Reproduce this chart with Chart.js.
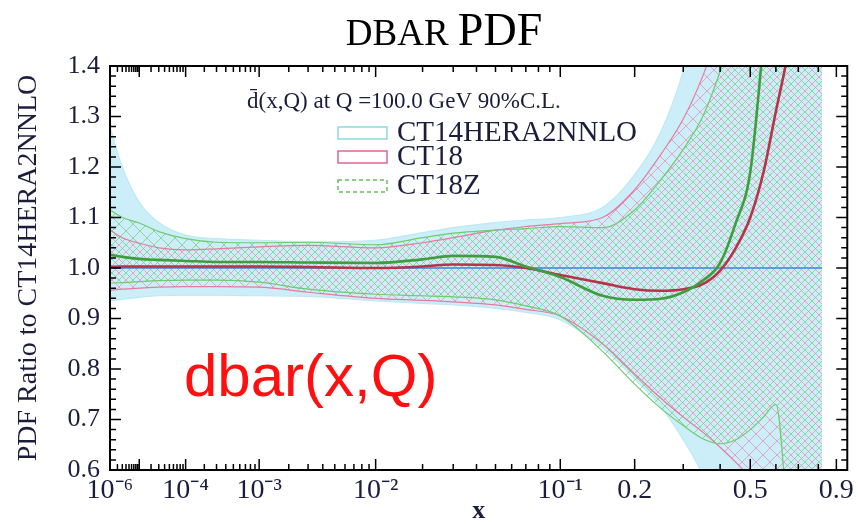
<!DOCTYPE html>
<html>
<head>
<meta charset="utf-8">
<script src="https://cdn.jsdelivr.net/npm/chart.js@4"></script>
<style>
  html, body { margin: 0; padding: 0; background: #fff; }
</style>
</head>
<body>
<canvas id="dbarChart" width="858" height="524"></canvas>
<script>
// sample points in x (momentum fraction)
const xs = [1e-6, 3e-6, 1e-5, 3e-5, 1e-4, 3e-4, 1e-3, 3e-3, 0.01, 0.02, 0.03, 0.05, 0.07, 0.1,
            0.15, 0.2, 0.25, 0.3, 0.35, 0.4, 0.45, 0.5, 0.55, 0.6, 0.65, 0.7, 0.75, 0.82];

// CT14HERA2NNLO error band (ratio to itself) and central
const ct14Upper = [1.28, 1.20, 1.13, 1.09, 1.065, 1.058, 1.055, 1.052, 1.055, 1.07, 1.08, 1.09, 1.095, 1.10,
                   1.12, 1.185, 1.27, 1.39, 1.55, 1.75, 1.95, 2.1, 2.2, 2.3, 2.4, 2.5, 2.6, 2.7];
const ct14Lower = [0.935, 0.938, 0.942, 0.945, 0.946, 0.946, 0.945, 0.944, 0.935, 0.93, 0.927, 0.92, 0.912, 0.897,
                   0.842, 0.78, 0.725, 0.66, 0.59, 0.5, 0.42, 0.36, 0.3, 0.25, 0.2, 0.15, 0.1, 0.05];
const ct14Central = [1, 1, 1, 1, 1, 1, 1, 1, 1, 1, 1, 1, 1, 1, 1, 1, 1, 1, 1, 1, 1, 1, 1, 1, 1, 1, 1, 1];

// CT18
const ct18Upper = [1.075, 1.06, 1.049, 1.04, 1.036, 1.038, 1.042, 1.045, 1.04, 1.05, 1.06, 1.075, 1.082, 1.088,
                   1.10, 1.155, 1.225, 1.295, 1.38, 1.48, 1.6, 1.75, 1.9, 2.0, 2.1, 2.2, 2.3, 2.4];
const ct18Lower = [0.956, 0.958, 0.96, 0.962, 0.963, 0.963, 0.962, 0.952, 0.94, 0.936, 0.933, 0.927, 0.918, 0.905,
                   0.85, 0.79, 0.742, 0.705, 0.675, 0.645, 0.615, 0.585, 0.55, 0.5, 0.45, 0.4, 0.35, 0.3];
const ct18Central = [1.002, 1.003, 1.003, 1.003, 1.003, 1.003, 1.003, 1.002, 1.0, 1.003, 1.007, 1.006, 1.0, 0.986,
                     0.97, 0.958, 0.955, 0.958, 0.968, 0.995, 1.04, 1.10, 1.19, 1.31, 1.42, 1.55, 1.7, 1.9];

// CT18Z
const ct18zUpper = [1.115, 1.10, 1.089, 1.072, 1.058, 1.051, 1.05, 1.051, 1.046, 1.06, 1.069, 1.075, 1.078, 1.082,
                    1.08, 1.115, 1.175, 1.235, 1.30, 1.39, 1.5, 1.62, 1.75, 1.9, 2.0, 2.1, 2.2, 2.3];
const ct18zLower = [0.970, 0.971, 0.973, 0.975, 0.976, 0.976, 0.972, 0.958, 0.948, 0.945, 0.943, 0.937, 0.925, 0.905,
                    0.835, 0.77, 0.722, 0.688, 0.662, 0.652, 0.66, 0.68, 0.705, 0.73, 0.5, 0.2, 0.1, 0.05];
const ct18zCentral = [1.026, 1.022, 1.018, 1.016, 1.014, 1.012, 1.012, 1.011, 1.01, 1.017, 1.024, 1.022, 1.003, 0.982,
                      0.945, 0.937, 0.939, 0.952, 0.975, 1.01, 1.09, 1.19, 1.45, 1.7, 1.9, 2.1, 2.3, 2.5];

const xTickValues = [1e-6, 1e-4, 1e-3, 1e-2, 0.1, 0.2, 0.5, 0.9];
const xTickLabels = ['10\u207B\u2076', '10\u207B\u2074', '10\u207B\u00B3', '10\u207B\u00B2', '10\u207B\u00B9', '0.2', '0.5', '0.9'];
const xMin = 1e-6, xMax = 0.965;

const serif = '"Liberation Serif", "Times New Roman", serif';
const inkColor = '#1c1c3c';

// x axis is drawn in x^0.2
const tx = v => Math.pow(v, 0.2);
const pts = arr => arr.map((v, i) => ({ x: tx(xs[i]), y: v }));

function hatch(color, shift) {
    const s = 14;
    const c = document.createElement('canvas');
    c.width = s; c.height = s;
    const g = c.getContext('2d');
    g.strokeStyle = color;
    g.lineWidth = 1;
    g.beginPath();
    for (let k = -1; k <= 1; k++) {
        const o = k * s + shift;
        g.moveTo(o, s); g.lineTo(o + s, 0);
        g.moveTo(o, 0); g.lineTo(o + s, s);
    }
    g.stroke();
    return g.createPattern(c, 'repeat');
}

const bandLine = (label, data, color, order, extra) => Object.assign({
    label: label,
    data: pts(data),
    borderColor: color,
    borderWidth: 1.2,
    pointRadius: 0,
    fill: false,
    cubicInterpolationMode: 'monotone',
    order: order
}, extra || {});

const datasets = [
    bandLine('CT14HERA2NNLO upper', ct14Upper, '#bde9f5', 9),
    bandLine('CT14HERA2NNLO lower', ct14Lower, '#bde9f5', 9, { fill: 0, backgroundColor: 'rgba(196, 236, 248, 0.88)' }),
    bandLine('CT18 upper', ct18Upper, '#ea79a0', 8),
    bandLine('CT18 lower', ct18Lower, '#ea79a0', 8, { fill: 2, backgroundColor: hatch('rgba(236, 120, 160, 0.6)', 0) }),
    bandLine('CT18Z upper', ct18zUpper, '#6fcb6f', 7),
    bandLine('CT18Z lower', ct18zLower, '#6fcb6f', 7, { fill: 4, backgroundColor: hatch('rgba(100, 195, 100, 0.6)', 7) }),
    bandLine('CT14HERA2NNLO', ct14Central, '#3f82e0', 3, { borderWidth: 1.6 }),
    bandLine('CT18', ct18Central, '#b5344a', 2, { borderWidth: 2.6 }),
    bandLine('CT18Z', ct18zCentral, '#3e9e3e', 1, { borderWidth: 2.6 })
];

// title, legend, frame and inward ticks
const decorations = {
    id: 'decorations',
    beforeDatasetsDraw(chart) {
        const ctx = chart.ctx;
        ctx.save();
        ctx.fillStyle = inkColor;
        ctx.textBaseline = 'middle';
        ctx.font = '23px ' + serif;
        ctx.fillText('d\u0304(x,Q) at Q =100.0 GeV 90%C.L.', 247, 102);
        const rows = [
            ['CT14HERA2NNLO', 133, '#8fdada', []],
            ['CT18', 157, '#e0668e', []],
            ['CT18Z', 186, '#62c062', [4, 3]]
        ];
        ctx.font = '29px ' + serif;
        rows.forEach(r => {
            ctx.strokeStyle = r[2];
            ctx.lineWidth = 1.5;
            ctx.setLineDash(r[3]);
            ctx.strokeRect(338, r[1] - 6, 49, 12);
            ctx.setLineDash([]);
            ctx.fillText(r[0], 397, r[1]);
        });
        ctx.restore();
    },
    afterDraw(chart) {
        const { ctx, chartArea: a, scales: { x, y } } = chart;
        ctx.save();
        // title
        ctx.fillStyle = '#000';
        ctx.textBaseline = 'alphabetic';
        ctx.font = '37px ' + serif;
        const w1 = ctx.measureText('DBAR ').width;
        ctx.font = '46px ' + serif;
        const w2 = ctx.measureText('PDF').width;
        const x0 = 444 - (w1 + w2) / 2;
        ctx.font = '37px ' + serif;
        ctx.fillText('DBAR ', x0, 45);
        ctx.font = '46px ' + serif;
        ctx.fillText('PDF', x0 + w1, 45);

        // red label
        ctx.fillStyle = '#ff1010';
        ctx.font = '60px "Liberation Sans", Arial, sans-serif';
        ctx.fillText('dbar(x,Q)', 184, 396);

        // ticks
        ctx.strokeStyle = '#000';
        ctx.lineWidth = 1.5;
        ctx.beginPath();
        const xMajor = [1e-6, 1e-5, 1e-4, 1e-3, 1e-2, 0.1, 0.2, 0.5, 0.9];
        const xMinor = [];
        for (let e = -6; e <= -1; e++) {
            for (let k = 2; k <= 9; k++) {
                const v = k * Math.pow(10, e);
                if (v <= xMax && xMajor.indexOf(+v.toPrecision(3)) < 0) xMinor.push(v);
            }
        }
        const vTick = (v, len) => {
            const p = x.getPixelForValue(tx(v));
            ctx.moveTo(p, a.bottom); ctx.lineTo(p, a.bottom - len);
            ctx.moveTo(p, a.top); ctx.lineTo(p, a.top + len);
        };
        xMajor.forEach(v => vTick(v, 11));
        xMinor.forEach(v => vTick(v, 6));
        for (let i = 0; i <= 40; i++) {
            const v = 0.6 + i * 0.02;
            const p = y.getPixelForValue(v);
            const len = i % 5 === 0 ? 11 : 6;
            ctx.moveTo(a.left, p); ctx.lineTo(a.left + len, p);
            ctx.moveTo(a.right, p); ctx.lineTo(a.right - len, p);
        }
        ctx.stroke();
        ctx.lineWidth = 2;
        ctx.strokeRect(a.left, a.top, a.right - a.left, a.bottom - a.top);
        ctx.restore();
    }
};

new Chart(document.getElementById('dbarChart').getContext('2d'), {
    type: 'line',
    data: { datasets: datasets },
    options: {
        responsive: false,
        animation: false,
        layout: { padding: { top: 66, right: 9, left: 0, bottom: 0 } },
        plugins: {
            legend: { display: false },
            tooltip: { enabled: false }
        },
        scales: {
            x: {
                type: 'linear',
                min: tx(xMin),
                max: tx(xMax),
                grid: { display: false, drawTicks: false },
                border: { display: false },
                afterFit: s => { s.height = 54; },
                afterBuildTicks: s => { s.ticks = xTickValues.map(v => ({ value: tx(v) })); },
                ticks: {
                    padding: 4,
                    autoSkip: false,
                    maxRotation: 0,
                    color: inkColor,
                    font: { family: serif, size: 28 },
                    callback: (val, i) => xTickLabels[i]
                },
                title: {
                    display: true,
                    text: 'x',
                    color: inkColor,
                    padding: 0,
                    font: { family: serif, size: 26, weight: 'bold', lineHeight: 1 }
                }
            },
            y: {
                min: 0.6,
                max: 1.4,
                grid: { display: false, drawTicks: false },
                border: { display: false },
                afterFit: s => { s.width = 110; },
                ticks: {
                    stepSize: 0.1,
                    padding: 10,
                    color: inkColor,
                    font: { family: serif, size: 26 },
                    callback: v => v.toFixed(1)
                },
                title: {
                    display: true,
                    text: 'PDF Ratio to CT14HERA2NNLO',
                    color: inkColor,
                    padding: { top: 13, bottom: 0 },
                    font: { family: serif, size: 28, lineHeight: 1.1 }
                }
            }
        }
    },
    plugins: [decorations]
});
</script>
</body>
</html>
